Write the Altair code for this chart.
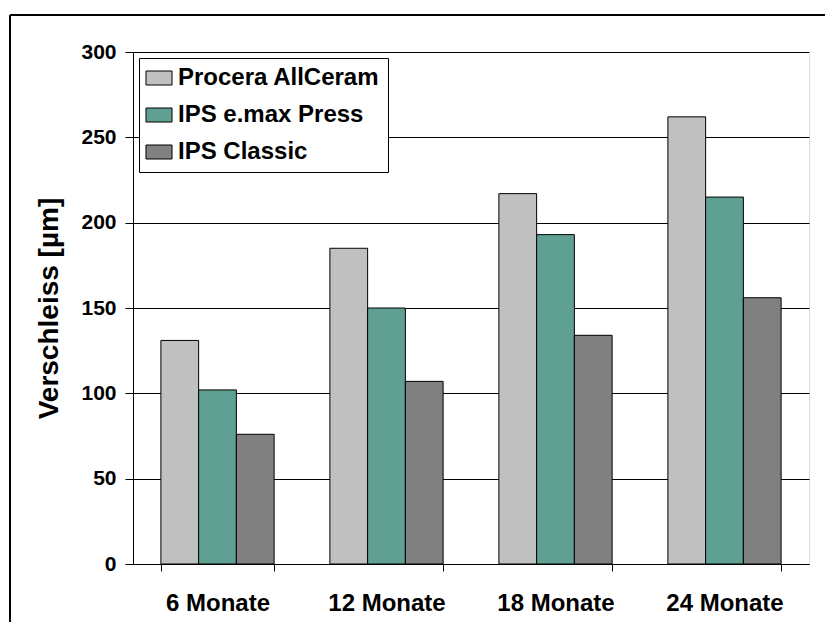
import altair as alt
import pandas as pd

periods = ["6 Monate", "12 Monate", "18 Monate", "24 Monate"]
materials = ["Procera AllCeram", "IPS e.max Press", "IPS Classic"]
procera = [131, 185, 217, 262]
emax = [102, 150, 193, 215]
classic = [76, 107, 134, 156]
colors = ["#C0C0C0", "#60A092", "#808080"]

rows = []
for mat, vals in zip(materials, [procera, emax, classic]):
    for p, v in zip(periods, vals):
        rows.append({"Zeitraum": p, "Material": mat, "Verschleiss": v})
df = pd.DataFrame(rows)

FONT = "Liberation Sans"

bars = alt.Chart(df).mark_bar(stroke="black", strokeWidth=1).encode(
    x=alt.X("Zeitraum:N", sort=periods, title=None,
            scale=alt.Scale(paddingInner=0.33, paddingOuter=0.165),
            axis=alt.Axis(labelAngle=0, labelFontSize=24, labelFont=FONT,
                          labelFontWeight="bold", labelColor="black",
                          labelPadding=20, tickBand="extent", tickSize=7,
                          tickColor="black", domainColor="black", grid=False)),
    xOffset=alt.XOffset("Material:N", sort=materials,
                        scale=alt.Scale(paddingInner=0, paddingOuter=0)),
    y=alt.Y("Verschleiss:Q", title="Verschleiss [µm]",
            scale=alt.Scale(domain=[0, 300], nice=False),
            axis=alt.Axis(values=[0, 50, 100, 150, 200, 250, 300],
                          labelFontSize=21, labelFont=FONT, labelFontWeight="bold",
                          labelColor="black", labelPadding=9, tickSize=8,
                          tickColor="black", domainColor="black",
                          gridColor="black", gridOpacity=1,
                          titleFontSize=28, titleFont=FONT, titleFontWeight="bold",
                          titleColor="black", titlePadding=17)),
    color=alt.Color("Material:N", sort=materials,
                    scale=alt.Scale(domain=materials, range=colors),
                    legend=alt.Legend(title=None, orient="none", legendX=6, legendY=6,
                                      strokeColor="black", padding=8,
                                      fillColor="white",
                                      labelFontSize=24, labelFont=FONT,
                                      labelFontWeight="bold", labelColor="black",
                                      labelLimit=400,
                                      symbolType="M-1.86,-1L1.86,-1L1.86,1L-1.86,1Z",
                                      symbolSize=196, symbolStrokeColor="black",
                                      symbolStrokeWidth=1, symbolOpacity=1,
                                      rowPadding=13, labelOffset=7)),
)

frame_top = alt.Chart(df).mark_rule(color="black", strokeWidth=2).encode(
    x=alt.value(-123), x2=alt.value(720), y=alt.value(-37))
frame_left = alt.Chart(df).mark_rule(color="black", strokeWidth=2).encode(
    x=alt.value(-123), y=alt.value(-37), y2=alt.value(600))

chart = alt.layer(frame_top, frame_left, bars).properties(
    width=676, height=512,
    autosize=alt.AutoSizeParams(type="none"),
    padding={"left": 125, "top": 44, "right": 16, "bottom": 58},
).configure_view(stroke="#808080", strokeWidth=2).configure(background="white")

chart.save("out.html", embed_options={"renderer": "svg", "actions": False})
